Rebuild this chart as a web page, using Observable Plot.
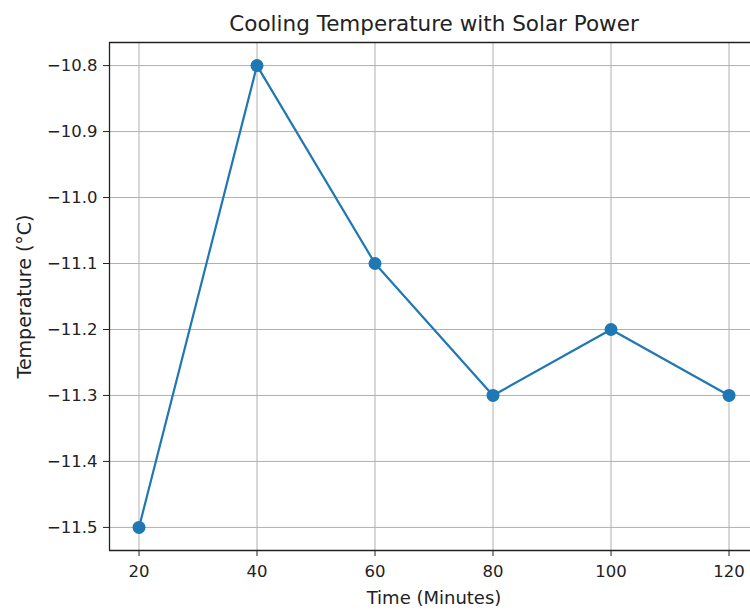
<!DOCTYPE html>
<html><head><meta charset="utf-8">
<script src="https://cdn.jsdelivr.net/npm/d3@7"></script>
<script src="https://cdn.jsdelivr.net/npm/@observablehq/plot@0.6"></script>
<style>body{margin:0;background:#fff}</style>
</head><body><div id="chart"></div>
<script>
const times = [20, 40, 60, 80, 100, 120];
const temps = [-11.5, -10.8, -11.1, -11.3, -11.2, -11.3];
const xTicks = [20, 40, 60, 80, 100, 120];
const yTicks = [-10.8, -10.9, -11.0, -11.1, -11.2, -11.3, -11.4, -11.5];
const title = "Cooling Temperature with Solar Power";
const xLabel = "Time (Minutes)";
const yLabel = "Temperature (°C)";

const xMin = 15, xMax = 125;      // full axes extent (right edge lies beyond the picture)
const xVisible = 123.64;          // part of the axes inside the 750px window
const yMin = -11.535, yMax = -10.765;

const data = times.map((t, i) => ({t, v: temps[i]}));
const fmt = d => d.toFixed(1).replace("-", "\u2212");

const chart = Plot.plot({
  width: 750, height: 610,
  marginLeft: 109, marginRight: 0, marginTop: 42, marginBottom: 60,
  style: {fontFamily: "DejaVu Sans", fontSize: "16px", color: "#222", background: "#fff", overflow: "visible"},
  x: {domain: [xMin, xVisible]},
  y: {domain: [yMin, yMax]},
  marks: [
    Plot.gridX(xTicks, {stroke: "#b0b0b0", strokeOpacity: 1, strokeWidth: 1}),
    Plot.gridY(yTicks, {stroke: "#b0b0b0", strokeOpacity: 1, strokeWidth: 1}),
    Plot.axisX(xTicks, {tickSize: 6, tickPadding: 9, fontSize: 16.5, label: null, stroke: "#222"}),
    Plot.axisY(yTicks, {tickSize: 6, tickPadding: 6, fontSize: 16.5, tickFormat: fmt, label: null, stroke: "#222"}),
    Plot.ruleX([xMin], {stroke: "#222", strokeWidth: 1.3}),
    Plot.ruleY([yMin, yMax], {stroke: "#222", strokeWidth: 1.3}),
    Plot.line(data, {x: "t", y: "v", stroke: "#1f77b4", strokeWidth: 2.2}),
    Plot.dot(data, {x: "t", y: "v", fill: "#1f77b4", r: 6.5, stroke: null}),
    Plot.text([title], {x: (xMin + xMax) / 2, frameAnchor: "top", lineAnchor: "bottom", dy: -12, fontSize: 21.5, fill: "#222", text: d => d}),
    Plot.text([xLabel], {x: (xMin + xMax) / 2, frameAnchor: "bottom", lineAnchor: "middle", dy: 48, fontSize: 18, fill: "#222", text: d => d}),
    Plot.text([yLabel], {frameAnchor: "left", textAnchor: "middle", lineAnchor: "middle", dx: -85, rotate: -90, fontSize: 19, fill: "#222", text: d => d})
  ]
});
document.getElementById("chart").appendChild(chart);
</script>
</body></html>
